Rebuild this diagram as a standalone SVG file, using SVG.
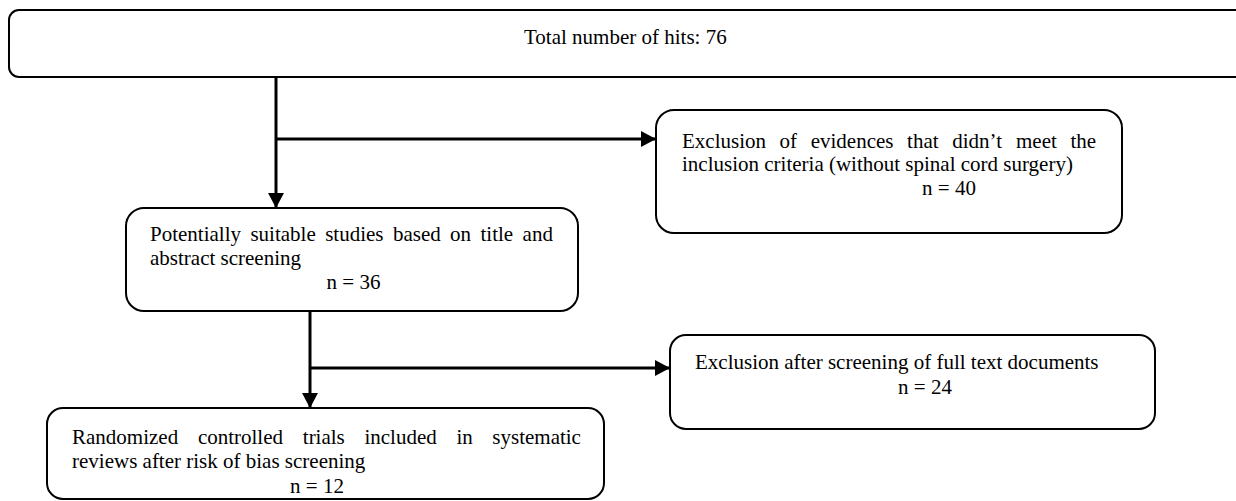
<svg xmlns="http://www.w3.org/2000/svg" width="1236" height="501" viewBox="0 0 1236 501">
<style>
.box{fill:#fff;stroke:#000;stroke-width:2}
.t{font-family:"Liberation Serif","Times New Roman",serif;font-size:21px;fill:#000}
.c{stroke:#000;stroke-width:3;fill:none}
</style>
<defs>
<marker id="ah" viewBox="0 0 15 16" refX="14" refY="8" markerWidth="15" markerHeight="16" markerUnits="userSpaceOnUse" orient="auto">
<path d="M0,0 L15,8 L0,16 z" fill="#000"/>
</marker>
</defs>
<rect width="1236" height="501" fill="#fff"/>
<g id="connectors">
<path class="c" d="M276,77 V207" marker-end="url(#ah)"/>
<path class="c" d="M276,139 H655" marker-end="url(#ah)"/>
<path class="c" d="M310,311 V407" marker-end="url(#ah)"/>
<path class="c" d="M310,368 H669" marker-end="url(#ah)"/>
</g>
<g id="n1">
<rect class="box" x="9" y="10" width="1240" height="67" rx="10"/>
<text class="t" x="524" y="44">Total number of hits: 76</text>
</g>
<g id="n2">
<rect class="box" x="656" y="110" width="466" height="123" rx="18"/>
<text class="t" y="148"><tspan x="682">Exclusion</tspan><tspan x="779.6">of</tspan><tspan x="810.7">evidences</tspan><tspan x="907.1">that</tspan><tspan x="952.2">didn’t</tspan><tspan x="1016">meet</tspan><tspan x="1070.4">the</tspan></text>
<text class="t" x="682" y="171">inclusion criteria (without spinal cord surgery)</text>
<text class="t" x="949" y="195" text-anchor="middle">n = 40</text>
</g>
<g id="n3">
<rect class="box" x="126" y="208" width="452" height="103" rx="18"/>
<text class="t" y="241"><tspan x="150">Potentially</tspan><tspan x="250.4">suitable</tspan><tspan x="325.2">studies</tspan><tspan x="392.9">based</tspan><tspan x="450.1">on</tspan><tspan x="480.5">title</tspan><tspan x="522.6">and</tspan></text>
<text class="t" x="150" y="265">abstract screening</text>
<text class="t" x="353.5" y="289" text-anchor="middle">n = 36</text>
</g>
<g id="n4">
<rect class="box" x="670" y="335" width="485" height="94" rx="16"/>
<text class="t" x="695" y="369">Exclusion after screening of full text documents</text>
<text class="t" x="925" y="394" text-anchor="middle">n = 24</text>
</g>
<g id="n5">
<rect class="box" x="47" y="408" width="557" height="91" rx="16"/>
<text class="t" y="444"><tspan x="72">Randomized</tspan><tspan x="197.9">controlled</tspan><tspan x="302.8">trials</tspan><tspan x="364.4">included</tspan><tspan x="456.4">in</tspan><tspan x="492.3">systematic</tspan></text>
<text class="t" x="72" y="468">reviews after risk of bias screening</text>
<text class="t" x="317" y="493" text-anchor="middle">n = 12</text>
</g>
</svg>
